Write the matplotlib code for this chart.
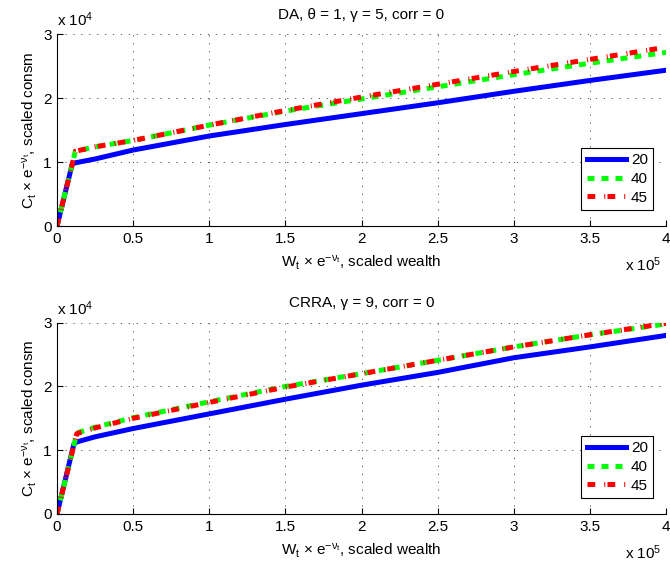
import numpy as np
import matplotlib
matplotlib.use("Agg")
import matplotlib.pyplot as plt
from matplotlib.ticker import FuncFormatter

plt.rcParams['font.family'] = ['Liberation Sans', 'DejaVu Sans']
plt.rcParams['mathtext.fontset'] = 'custom'
plt.rcParams['mathtext.rm'] = 'Liberation Sans'
plt.rcParams['mathtext.it'] = 'Liberation Sans:italic'
plt.rcParams['mathtext.bf'] = 'Liberation Sans:bold'
plt.rcParams['font.size'] = 11

# scaled wealth (x 10^5) and scaled consumption (x 10^4)
wealth_da = [0, 0.10, 0.12, 0.25, 0.5, 1.0, 1.5, 2.0, 2.5, 3.0, 3.5, 4.0]
da_20 = [0, 0.97, 0.99, 1.05, 1.19, 1.41, 1.59, 1.76, 1.93, 2.11, 2.28, 2.44]
da_40 = [0, 0.97, 1.17, 1.24, 1.34, 1.58, 1.80, 1.99, 2.18, 2.37, 2.55, 2.72]
da_45 = [0, 0.97, 1.17, 1.24, 1.34, 1.58, 1.81, 2.02, 2.22, 2.42, 2.61, 2.80]

wealth_crra = [0, 0.11, 0.13, 0.25, 0.5, 1.0, 1.5, 2.0, 2.5, 3.0, 3.5, 4.0]
crra_20 = [0, 1.09, 1.13, 1.21, 1.34, 1.57, 1.80, 2.02, 2.22, 2.45, 2.62, 2.80]
crra_40 = [0, 1.07, 1.27, 1.36, 1.51, 1.76, 2.00, 2.20, 2.41, 2.62, 2.81, 2.98]
crra_45 = [0, 1.07, 1.26, 1.35, 1.50, 1.75, 1.99, 2.20, 2.41, 2.62, 2.81, 2.99]

labels = ['20', '40', '45']
titles = [u'DA, \u03b8 = 1, \u03b3 = 5, corr = 0', u'CRRA, \u03b3 = 9, corr = 0']
xticks = [0, 0.5, 1, 1.5, 2, 2.5, 3, 3.5, 4]
yticks = [0, 1, 2, 3]

panels = [(wealth_da, [da_20, da_40, da_45]),
          (wealth_crra, [crra_20, crra_40, crra_45])]

fig = plt.figure(figsize=(6.7, 5.69), dpi=100)
ax_top = fig.add_axes([0.0851, 0.6028, 0.909, 0.3366])
ax_bot = fig.add_axes([0.0851, 0.0967, 0.909, 0.3362])

fmt = FuncFormatter(lambda v, pos: '%g' % v)

for ax, (w, series), title in zip([ax_top, ax_bot], panels, titles):
    ax.plot(w, series[0], color=(0, 0, 1), lw=3.6, label=labels[0],
            solid_joinstyle='miter')
    ax.plot(w, series[1], color=(0, 1, 0), lw=3.6, label=labels[1],
            dashes=(1.4, 1.4), dash_capstyle='butt')
    ax.plot(w, series[2], color=(1, 0, 0), lw=3.6, label=labels[2],
            dashes=(1.55, 1.8, 0.2, 0.45), dash_capstyle='butt')

    ax.set_xlim(0, 4)
    ax.set_ylim(0, 3)
    ax.set_xticks(xticks)
    ax.set_yticks(yticks)
    ax.xaxis.set_major_formatter(fmt)
    ax.yaxis.set_major_formatter(fmt)
    ax.grid(True, color='0.25', lw=0.6, linestyle=(0, (1.5, 8)))
    ax.set_axisbelow(True)
    for side in ['top', 'right']:
        ax.spines[side].set_visible(False)
    for side in ['left', 'bottom']:
        ax.spines[side].set_linewidth(0.8)
    ax.tick_params(direction='in', length=4.3, width=0.8, pad=4)

    ax.set_title(title, fontsize=11, pad=11)
    ax.set_xlabel(r'W$_{\mathrm{t}}$ $\times$ e$^{-\mathrm{\nu}_{\mathrm{t}}}$, scaled wealth',
                  labelpad=6)
    ax.set_ylabel(r'C$_{\mathrm{t}}$ $\times$ e$^{-\mathrm{\nu}_{\mathrm{t}}}$, scaled consm',
                  labelpad=3)
    ax.text(0.0, 1.042, r'x 10$^{4}$', transform=ax.transAxes,
            ha='left', va='baseline')
    ax.text(0.993, -0.236, r'x 10$^{5}$', transform=ax.transAxes,
            ha='right', va='baseline')

    leg = ax.legend(loc='lower right', bbox_to_anchor=(0.979, 0.084),
                    borderaxespad=0, fancybox=False, framealpha=1,
                    edgecolor='black', handlelength=2.6, handletextpad=0.3,
                    labelspacing=0.3, borderpad=0.35)
    leg.get_frame().set_linewidth(0.8)

fig.savefig('out.png', dpi=100)
